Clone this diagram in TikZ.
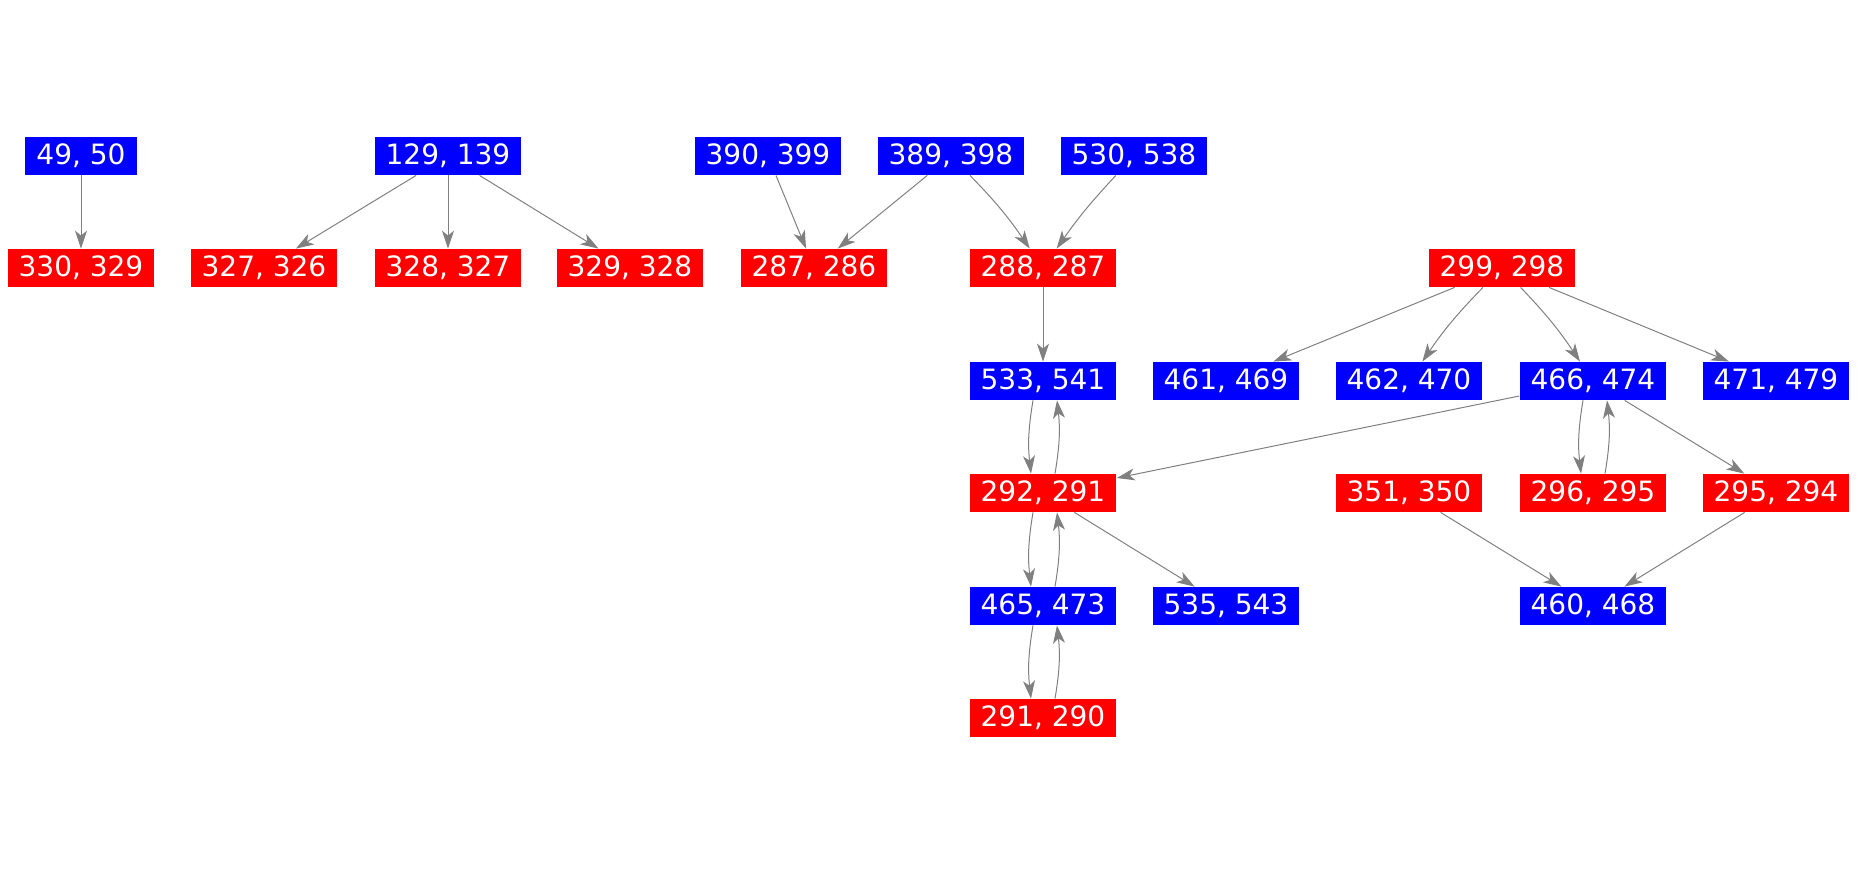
\documentclass[tikz,border=0pt]{standalone}
\usepackage{fontspec}
\setmainfont{DejaVu Sans}
\usetikzlibrary{arrows.meta}
\tikzset{
  pair/.style={text=white, font=\fontsize{14pt}{16pt}\selectfont, minimum height=19pt, inner xsep=5.5pt, inner ysep=0pt},
  bluepair/.style={pair, fill=blue},
  redpair/.style={pair, fill=red},
  link/.style={draw=gray, line width=0.5pt, -{Stealth[length=9pt, width=6pt, inset=2.5pt]}},
}
\begin{document}
\begin{tikzpicture}[x=0.5pt, y=-0.5pt]
        \useasboundingbox (0,0) rectangle (1858,875);                     %
        \node [bluepair] (b4950)   at (81,156)   {49, 50};                %row 1
        \node [bluepair] (b129139) at (448,156)  {129, 139};              %
        \node [bluepair] (b390399) at (768,156)  {390, 399};              %
        \node [bluepair] (b389398) at (951,156)  {389, 398};              %
        \node [bluepair] (b530538) at (1134,156) {530, 538};              %
        \node [redpair]  (r330329) at (81,268)   {330, 329};              %row 2
        \node [redpair]  (r327326) at (264,268)  {327, 326};              %
        \node [redpair]  (r328327) at (448,268)  {328, 327};              %
        \node [redpair]  (r329328) at (630,268)  {329, 328};              %
        \node [redpair]  (r287286) at (814,268)  {287, 286};              %
        \node [redpair]  (r288287) at (1043,268) {288, 287};              %
        \node [redpair]  (r299298) at (1502,268) {299, 298};              %
        \node [bluepair] (b533541) at (1043,381) {533, 541};              %row 3
        \node [bluepair] (b461469) at (1226,381) {461, 469};              %
        \node [bluepair] (b462470) at (1409,381) {462, 470};              %
        \node [bluepair] (b466474) at (1593,381) {466, 474};              %
        \node [bluepair] (b471479) at (1776,381) {471, 479};              %
        \node [redpair]  (r292291) at (1043,493) {292, 291};              %row 4
        \node [redpair]  (r351350) at (1409,493) {351, 350};              %
        \node [redpair]  (r296295) at (1593,493) {296, 295};              %
        \node [redpair]  (r295294) at (1776,493) {295, 294};              %
        \node [bluepair] (b465473) at (1043,606) {465, 473};              %row 5
        \node [bluepair] (b535543) at (1226,606) {535, 543};              %
        \node [bluepair] (b460468) at (1593,606) {460, 468};              %
        \node [redpair]  (r291290) at (1043,718) {291, 290};              %row 6
        \draw [link] (b4950) -- (r330329);                                %
        \draw [link] (b129139) -- (r327326);                              %
        \draw [link] (b129139) -- (r328327);                              %
        \draw [link] (b129139) -- (r329328);                              %
        \draw [link] (b390399) -- (r287286);                              %
        \draw [link] (b389398) -- (r287286);                              %
        \draw [link] (b389398) to [bend left=5] (r288287);                %
        \draw [link] (b530538) to [bend right=4] (r288287);               %
        \draw [link] (r288287) -- (b533541);                              %
        \draw [link] (r299298) -- (b461469);                              %
        \draw [link] (r299298) to [bend right=5] (b462470);               %
        \draw [link] (r299298) to [bend left=5] (b466474);                %
        \draw [link] (r299298) -- (b471479);                              %
        \draw [link] ([xshift=-5pt]b533541.south) to [bend right=8] ([xshift=-6pt]r292291.north); %
        \draw [link] ([xshift=6pt]r292291.north) to [bend right=8] ([xshift=7pt]b533541.south);   %
        \draw [link] (b466474) -- (r292291);                              %
        \draw [link] ([xshift=-5pt]b466474.south) to [bend right=8] ([xshift=-6pt]r296295.north); %
        \draw [link] ([xshift=6pt]r296295.north) to [bend right=8] ([xshift=7pt]b466474.south);   %
        \draw [link] (b466474) -- (r295294);                              %
        \draw [link] ([xshift=-5pt]r292291.south) to [bend right=8] ([xshift=-6pt]b465473.north); %
        \draw [link] ([xshift=6pt]b465473.north) to [bend right=8] ([xshift=7pt]r292291.south);   %
        \draw [link] (r292291) -- (b535543);                              %
        \draw [link] ([xshift=-5pt]b465473.south) to [bend right=8] ([xshift=-6pt]r291290.north); %
        \draw [link] ([xshift=6pt]r291290.north) to [bend right=8] ([xshift=7pt]b465473.south);   %
        \draw [link] (r351350) -- (b460468);                              %
        \draw [link] (r295294) -- (b460468);                              %
\end{tikzpicture}
\end{document}
